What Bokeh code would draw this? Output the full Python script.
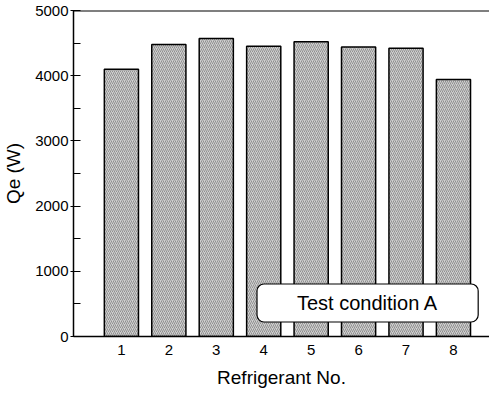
from bokeh.plotting import figure
from bokeh.models import Range1d, Span, Label, FixedTicker
from bokeh.embed import file_html
from bokeh.resources import INLINE

refrigerants = [1, 2, 3, 4, 5, 6, 7, 8]
qe_values = [4100, 4480, 4570, 4450, 4520, 4440, 4420, 3940]
y_ticks = [0, 1000, 2000, 3000, 4000, 5000]
y_minor = [500, 1500, 2500, 3500, 4500]
x_label = "Refrigerant No."
y_label = "Qe (W)"
note = "Test condition A"

FONT = "Liberation Sans"

p = figure(width=485, height=386, output_backend="svg", toolbar_location=None,
           x_range=Range1d(-0.01, 8.76), y_range=Range1d(0, 5000),
           frame_width=416, frame_height=326,
           min_border_left=69, min_border_top=10, min_border_right=0, min_border_bottom=50)
p.outline_line_color = None
p.grid.visible = False
p.background_fill_color = "white"
p.border_fill_color = "white"

p.vbar(x=refrigerants, top=qe_values, width=0.72, bottom=0,
       fill_color="#cfcfcf", hatch_pattern="/", hatch_color="#909090",
       hatch_scale=4, hatch_weight=1, line_color="black", line_width=1.5)

p.add_layout(Span(location=5000, dimension="width", line_color="black", line_width=2))

p.xaxis.ticker = FixedTicker(ticks=refrigerants)
p.xaxis.major_tick_line_color = None
p.xaxis.minor_tick_line_color = None
p.xaxis.major_label_standoff = 2
p.xaxis.axis_label = x_label
p.xaxis.axis_label_standoff = 9

p.yaxis.ticker = FixedTicker(ticks=y_ticks, minor_ticks=y_minor)
p.yaxis.major_tick_in = 7
p.yaxis.major_tick_out = 3
p.yaxis.minor_tick_in = 7
p.yaxis.minor_tick_out = 0
p.yaxis.major_label_standoff = 2
p.yaxis.axis_label = y_label
p.yaxis.axis_label_standoff = 8

for ax in (p.xaxis, p.yaxis):
    ax.axis_line_color = "black"
    ax.axis_line_width = 1.5
    ax.major_tick_line_width = 1.2
    ax.minor_tick_line_width = 1.2
    ax.major_label_text_font = FONT
    ax.major_label_text_font_size = "15px"
    ax.major_label_text_color = "black"
    ax.axis_label_text_font = FONT
    ax.axis_label_text_font_size = "19px"
    ax.axis_label_text_font_style = "normal"
    ax.axis_label_text_color = "black"

lab = Label(x=6.19, y=514, text=note, text_align="center", text_baseline="middle",
            text_font=FONT, text_font_size="20px", text_color="black",
            background_fill_color="white", border_line_color="black", border_line_width=1.2,
            padding=(40, 8), border_radius=7)
p.add_layout(lab)

open("out.html", "w").write(file_html(p, INLINE))
